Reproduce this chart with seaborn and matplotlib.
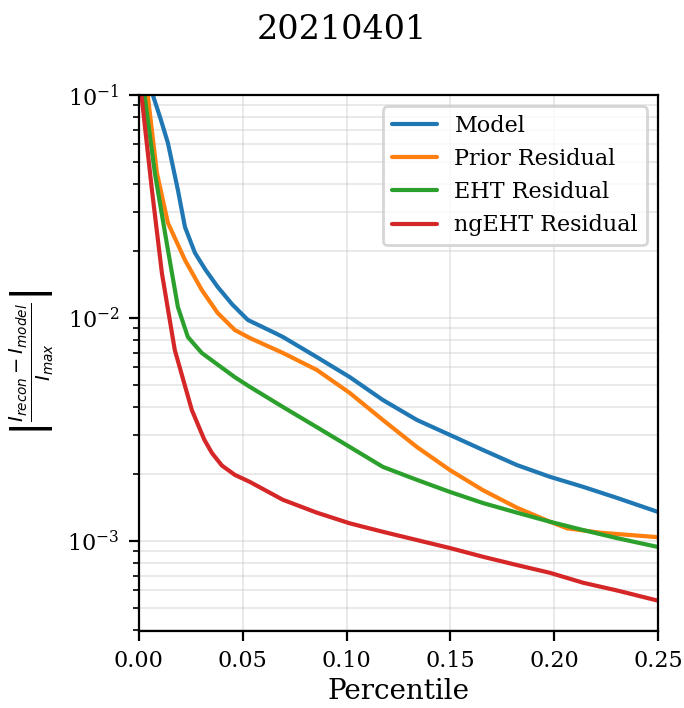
import numpy as np
import pandas as pd
import matplotlib
matplotlib.use("Agg")
import matplotlib.pyplot as plt
import seaborn as sns

# Data
model_x = [0.006, 0.0105, 0.014, 0.0188, 0.0222, 0.027, 0.032, 0.038, 0.045, 0.0525, 0.0655, 0.0694, 0.0857, 0.1016,
           0.1175, 0.1339, 0.1498, 0.1657, 0.1821, 0.198, 0.2139, 0.2303, 0.25]
model_y = [0.105, 0.078, 0.0609, 0.0375, 0.0256, 0.0196, 0.0165, 0.01377, 0.0115, 0.0098, 0.00857, 0.00822, 0.00668, 0.00543,
           0.00429, 0.00349, 0.00299, 0.00256, 0.00219, 0.00194, 0.00175, 0.00156, 0.00135]

prior_x = [0.004, 0.0087, 0.014, 0.0222, 0.0303, 0.038, 0.0462, 0.0535, 0.0694, 0.0857, 0.1016,
           0.1175, 0.1339, 0.1498, 0.1657, 0.1821, 0.198, 0.2062, 0.2221, 0.25]
prior_y = [0.105, 0.0447, 0.0267, 0.0182, 0.01336, 0.01052, 0.00884, 0.00813, 0.00697, 0.00585, 0.00461,
           0.00349, 0.00264, 0.00208, 0.00169, 0.00141, 0.00122, 0.00114, 0.00109, 0.00104]

eht_x = [0.0024, 0.0077, 0.014, 0.0188, 0.0236, 0.0303, 0.0462, 0.0535, 0.0694, 0.0857, 0.1016,
         0.1175, 0.1339, 0.1498, 0.1657, 0.1821, 0.198, 0.2139, 0.2303, 0.25]
eht_y = [0.105, 0.0447, 0.0202, 0.0112, 0.00822, 0.00697, 0.00543, 0.00491, 0.00399, 0.00324, 0.00264,
         0.00215, 0.00188, 0.00166, 0.00148, 0.00134, 0.00122, 0.00112, 0.00103, 0.00094]

ngeht_x = [0.001, 0.0063, 0.0111, 0.0173, 0.0255, 0.0315, 0.0352, 0.040, 0.0462, 0.0535, 0.0694, 0.0857, 0.1016,
           0.1175, 0.1339, 0.1498, 0.1657, 0.1821, 0.198, 0.2139, 0.2303, 0.25]
ngeht_y = [0.105, 0.0375, 0.0159, 0.00719, 0.00387, 0.00285, 0.00248, 0.00218, 0.00198, 0.00184, 0.00153, 0.00134, 0.00120,
           0.00110, 0.00101, 0.00093, 0.00085, 0.00078, 0.00072, 0.00065, 0.00060, 0.00054]

labels = ["Model", "Prior Residual", "EHT Residual", "ngEHT Residual"]
xs = [model_x, prior_x, eht_x, ngeht_x]
ys = [model_y, prior_y, eht_y, ngeht_y]

frames = [pd.DataFrame({"x": x, "y": y, "series": lab}) for x, y, lab in zip(xs, ys, labels)]
df = pd.concat(frames, ignore_index=True)

sns.set_style("ticks")
plt.rcParams["font.family"] = ["DejaVu Serif"]
plt.rcParams["mathtext.fontset"] = "dejavusans"
for k in ["text.color", "axes.labelcolor", "xtick.color", "ytick.color", "axes.edgecolor"]:
    plt.rcParams[k] = "black"

fig = plt.figure(figsize=(3.42, 3.54), dpi=200)
ax = fig.add_axes([0.203, 0.1088, 0.759, 0.757])

palette = ["#1f77b4", "#ff7f0e", "#2ca02c", "#d62728"]
sns.lineplot(data=df, x="x", y="y", hue="series", hue_order=labels, palette=palette,
             sort=False, estimator=None, linewidth=1.5, ax=ax)

ax.set_yscale("log")
ax.set_xlim(0, 0.25)
ax.set_ylim(3.95e-4, 0.1)
ax.set_xticks([0, 0.05, 0.1, 0.15, 0.2, 0.25])
ax.set_xticklabels(["0.00", "0.05", "0.10", "0.15", "0.20", "0.25"])
ax.tick_params(axis="both", which="major", labelsize=8, length=3.5, width=0.8, direction="out", colors="black")
ax.tick_params(axis="y", which="minor", length=2, width=0.6, colors="black")
for s in ax.spines.values():
    s.set_linewidth(0.8)
    s.set_color("black")
ax.grid(True, which="major", axis="both", color="#cccccc", alpha=0.5, linewidth=0.6)
ax.grid(True, which="minor", axis="y", color="#cccccc", alpha=0.5, linewidth=0.6)

ax.set_xlabel("Percentile", fontsize=10, labelpad=2)
ax.set_ylabel(r"$\left|\frac{I_{recon} - I_{model}}{I_{max}}\right|$", fontsize=10)
fig.suptitle("20210401", fontsize=12, y=0.98)

leg = ax.legend(loc="upper right", fontsize=8, frameon=True)
for t in leg.get_texts():
    t.set_color("black")

fig.savefig("out.png", dpi=200)
